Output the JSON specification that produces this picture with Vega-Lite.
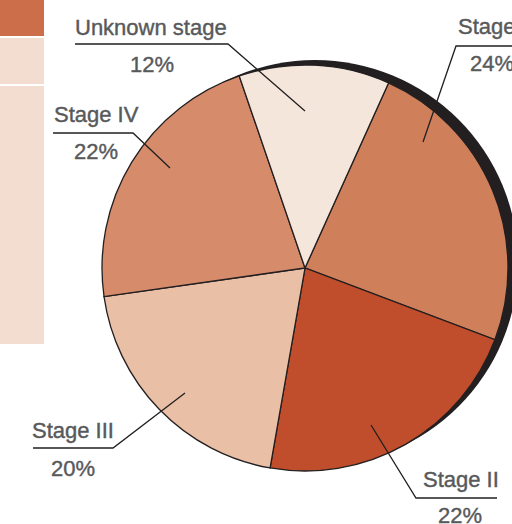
{
  "$schema": "https://vega.github.io/schema/vega-lite/v6.json",
  "width": 512,
  "height": 524,
  "autosize": {"type": "none"},
  "padding": 0,
  "background": "white",
  "config": {"view": {"stroke": null}},
  "resolve": {"scale": {"theta": "independent"}},
  "datasets": {
    "slices": [
      {"stage": "Stage I", "pct": 24, "k": 1},
      {"stage": "Stage II", "pct": 22, "k": 2},
      {"stage": "Stage III", "pct": 20, "k": 3},
      {"stage": "Stage IV", "pct": 22, "k": 4},
      {"stage": "Unknown stage", "pct": 12, "k": 5}
    ],
    "shadow": [{"part": "shadow", "v": 1}],
    "panels_dark": [{"part": "header", "x0": 0, "x1": 44, "y0": 0, "y1": 36}],
    "panels_light": [
      {"part": "row1", "x0": 0, "x1": 44, "y0": 38, "y1": 84},
      {"part": "row2", "x0": 0, "x1": 44, "y0": 86, "y1": 344}
    ],
    "leaders": [
      {"id": "Unknown stage", "i": 1, "x": 75, "y": 44},
      {"id": "Unknown stage", "i": 2, "x": 228, "y": 44},
      {"id": "Unknown stage", "i": 3, "x": 305, "y": 111},
      {"id": "Stage I", "i": 1, "x": 520, "y": 46},
      {"id": "Stage I", "i": 2, "x": 456, "y": 46},
      {"id": "Stage I", "i": 3, "x": 423, "y": 142},
      {"id": "Stage IV", "i": 1, "x": 53, "y": 133},
      {"id": "Stage IV", "i": 2, "x": 133, "y": 133},
      {"id": "Stage IV", "i": 3, "x": 170, "y": 168},
      {"id": "Stage III", "i": 1, "x": 33, "y": 448},
      {"id": "Stage III", "i": 2, "x": 113, "y": 448},
      {"id": "Stage III", "i": 3, "x": 185, "y": 393},
      {"id": "Stage II", "i": 1, "x": 497, "y": 498},
      {"id": "Stage II", "i": 2, "x": 416, "y": 498},
      {"id": "Stage II", "i": 3, "x": 371, "y": 425}
    ],
    "names": [
      {"t": "Unknown stage", "x": 75, "y": 34.5},
      {"t": "Stage I", "x": 458, "y": 33.5},
      {"t": "Stage IV", "x": 54, "y": 121.5},
      {"t": "Stage III", "x": 32, "y": 438},
      {"t": "Stage II", "x": 423, "y": 487}
    ],
    "pcts": [
      {"t": "12%", "x": 152, "y": 71.5},
      {"t": "24%", "x": 492, "y": 71},
      {"t": "22%", "x": 96, "y": 159},
      {"t": "20%", "x": 73, "y": 476},
      {"t": "22%", "x": 460, "y": 523}
    ]
  },
  "layer": [
    {
      "data": {"name": "panels_dark"},
      "mark": {"type": "rect", "color": "#CD6E4A"},
      "encoding": {
        "x": {"field": "x0", "type": "quantitative", "scale": {"domain": [0, 512], "nice": false, "zero": false}, "axis": null},
        "x2": {"field": "x1"},
        "y": {"field": "y0", "type": "quantitative", "scale": {"domain": [0, 524], "nice": false, "zero": false, "reverse": true}, "axis": null},
        "y2": {"field": "y1"}
      }
    },
    {
      "data": {"name": "panels_light"},
      "mark": {"type": "rect", "color": "#F3DDD0"},
      "encoding": {
        "x": {"field": "x0", "type": "quantitative", "scale": {"domain": [0, 512], "nice": false, "zero": false}, "axis": null},
        "x2": {"field": "x1"},
        "y": {"field": "y0", "type": "quantitative", "scale": {"domain": [0, 524], "nice": false, "zero": false, "reverse": true}, "axis": null},
        "y2": {"field": "y1"}
      }
    },
    {
      "data": {"name": "shadow"},
      "mark": {"type": "arc", "outerRadius": 203, "color": "#231F20", "x": {"expr": "width*315/512"}, "y": {"expr": "height*263/524"}},
      "encoding": {
        "theta": {"field": "v", "type": "quantitative"}
      }
    },
    {
      "data": {"name": "slices"},
      "mark": {"type": "arc", "outerRadius": 203, "stroke": "#231F20", "strokeWidth": 1.3, "x": {"expr": "width*305/512"}, "y": {"expr": "height*268/524"}},
      "encoding": {
        "theta": {"field": "pct", "type": "quantitative", "stack": true, "scale": {"range": [0.4241, 6.7073]}},
        "order": {"field": "k", "type": "quantitative"},
        "color": {
          "field": "stage",
          "type": "nominal",
          "legend": null,
          "scale": {
            "domain": ["Stage I", "Stage II", "Stage III", "Stage IV", "Unknown stage"],
            "range": ["#D07F5B", "#C04D2C", "#E9BFA6", "#D68B6B", "#F5E6DC"]
          }
        }
      }
    },
    {
      "data": {"name": "leaders"},
      "mark": {"type": "line", "color": "#231F20", "strokeWidth": 1.3},
      "encoding": {
        "x": {"field": "x", "type": "quantitative", "scale": {"domain": [0, 512], "nice": false, "zero": false}, "axis": null},
        "y": {"field": "y", "type": "quantitative", "scale": {"domain": [0, 524], "nice": false, "zero": false, "reverse": true}, "axis": null},
        "detail": {"field": "id", "type": "nominal"},
        "order": {"field": "i", "type": "quantitative"}
      }
    },
    {
      "data": {"name": "names"},
      "mark": {"type": "text", "align": "left", "baseline": "alphabetic", "font": "Liberation Sans", "fontSize": 22, "color": "#58595B", "stroke": "#58595B", "strokeWidth": 0.4},
      "encoding": {
        "x": {"field": "x", "type": "quantitative", "scale": {"domain": [0, 512], "nice": false, "zero": false}, "axis": null},
        "y": {"field": "y", "type": "quantitative", "scale": {"domain": [0, 524], "nice": false, "zero": false, "reverse": true}, "axis": null},
        "text": {"field": "t"}
      }
    },
    {
      "data": {"name": "pcts"},
      "mark": {"type": "text", "align": "center", "baseline": "alphabetic", "font": "Liberation Sans", "fontSize": 22, "color": "#58595B", "stroke": "#58595B", "strokeWidth": 0.4},
      "encoding": {
        "x": {"field": "x", "type": "quantitative", "scale": {"domain": [0, 512], "nice": false, "zero": false}, "axis": null},
        "y": {"field": "y", "type": "quantitative", "scale": {"domain": [0, 524], "nice": false, "zero": false, "reverse": true}, "axis": null},
        "text": {"field": "t"}
      }
    }
  ]
}
